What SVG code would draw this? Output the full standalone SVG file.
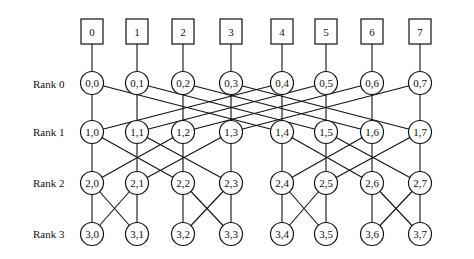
<svg xmlns="http://www.w3.org/2000/svg" width="474" height="259" viewBox="0 0 474 259">
<style>
.n circle{fill:#fff;stroke:#111;stroke-width:1.2}
.n rect{fill:#fff;stroke:#111;stroke-width:1.2}
text{font-family:"Liberation Serif","Times New Roman",serif;font-size:11px;fill:#111;text-anchor:middle;dominant-baseline:central}
.r{font-size:11px;text-anchor:start}
#edges line{stroke:#111;stroke-width:1.1}
</style>
<rect width="474" height="259" fill="#fff"/>
<g id="labels">
<text class="r" x="33" y="84">Rank 0</text>
<text class="r" x="33" y="132">Rank 1</text>
<text class="r" x="33" y="183">Rank 2</text>
<text class="r" x="33" y="234">Rank 3</text>
</g>
<g id="edges">
<line x1="92" y1="44" x2="92" y2="83"/><line x1="137" y1="44" x2="137" y2="83"/><line x1="183" y1="44" x2="183" y2="83"/><line x1="231" y1="44" x2="231" y2="83"/>
<line x1="282" y1="44" x2="282" y2="83"/><line x1="326" y1="44" x2="326" y2="83"/><line x1="372" y1="44" x2="372" y2="83"/><line x1="420" y1="44" x2="420" y2="83"/>
<line x1="92" y1="83" x2="92" y2="132"/><line x1="137" y1="83" x2="137" y2="132"/><line x1="183" y1="83" x2="183" y2="132"/><line x1="231" y1="83" x2="231" y2="132"/>
<line x1="282" y1="83" x2="282" y2="132"/><line x1="326" y1="83" x2="326" y2="132"/><line x1="372" y1="83" x2="372" y2="132"/><line x1="420" y1="83" x2="420" y2="132"/>
<line x1="92" y1="83" x2="282" y2="132"/><line x1="137" y1="83" x2="326" y2="132"/><line x1="183" y1="83" x2="372" y2="132"/><line x1="231" y1="83" x2="420" y2="132"/>
<line x1="282" y1="83" x2="92" y2="132"/><line x1="326" y1="83" x2="137" y2="132"/><line x1="372" y1="83" x2="183" y2="132"/><line x1="420" y1="83" x2="231" y2="132"/>
<line x1="92" y1="132" x2="92" y2="183"/><line x1="137" y1="132" x2="137" y2="183"/><line x1="183" y1="132" x2="183" y2="183"/><line x1="231" y1="132" x2="231" y2="183"/>
<line x1="282" y1="132" x2="282" y2="183"/><line x1="326" y1="132" x2="326" y2="183"/><line x1="372" y1="132" x2="372" y2="183"/><line x1="420" y1="132" x2="420" y2="183"/>
<line x1="92" y1="132" x2="183" y2="183"/><line x1="137" y1="132" x2="231" y2="183"/><line x1="183" y1="132" x2="92" y2="183"/><line x1="231" y1="132" x2="137" y2="183"/>
<line x1="282" y1="132" x2="372" y2="183"/><line x1="326" y1="132" x2="420" y2="183"/><line x1="372" y1="132" x2="282" y2="183"/><line x1="420" y1="132" x2="326" y2="183"/>
<line x1="92" y1="183" x2="92" y2="234"/><line x1="137" y1="183" x2="137" y2="234"/><line x1="183" y1="183" x2="183" y2="234"/><line x1="231" y1="183" x2="231" y2="234"/>
<line x1="282" y1="183" x2="282" y2="234"/><line x1="326" y1="183" x2="326" y2="234"/><line x1="372" y1="183" x2="372" y2="234"/><line x1="420" y1="183" x2="420" y2="234"/>
<line x1="92" y1="183" x2="137" y2="234"/><line x1="137" y1="183" x2="92" y2="234"/><line x1="183" y1="183" x2="231" y2="234"/><line x1="231" y1="183" x2="183" y2="234"/>
<line x1="282" y1="183" x2="326" y2="234"/><line x1="326" y1="183" x2="282" y2="234"/><line x1="372" y1="183" x2="420" y2="234"/><line x1="420" y1="183" x2="372" y2="234"/>
</g>
<g id="b0" class="n"><rect x="81" y="19" width="22" height="25"/><text x="92" y="32">0</text></g>
<g id="b1" class="n"><rect x="126" y="19" width="22" height="25"/><text x="137" y="32">1</text></g>
<g id="b2" class="n"><rect x="172" y="19" width="22" height="25"/><text x="183" y="32">2</text></g>
<g id="b3" class="n"><rect x="220" y="19" width="22" height="25"/><text x="231" y="32">3</text></g>
<g id="b4" class="n"><rect x="271" y="19" width="22" height="25"/><text x="282" y="32">4</text></g>
<g id="b5" class="n"><rect x="315" y="19" width="22" height="25"/><text x="326" y="32">5</text></g>
<g id="b6" class="n"><rect x="361" y="19" width="22" height="25"/><text x="372" y="32">6</text></g>
<g id="b7" class="n"><rect x="409" y="19" width="22" height="25"/><text x="420" y="32">7</text></g>

<g id="n0_0" class="n"><circle cx="92" cy="83" r="11.5"/><text x="92" y="83">0,0</text></g>
<g id="n0_1" class="n"><circle cx="137" cy="83" r="11.5"/><text x="137" y="83">0,1</text></g>
<g id="n0_2" class="n"><circle cx="183" cy="83" r="11.5"/><text x="183" y="83">0,2</text></g>
<g id="n0_3" class="n"><circle cx="231" cy="83" r="11.5"/><text x="231" y="83">0,3</text></g>
<g id="n0_4" class="n"><circle cx="282" cy="83" r="11.5"/><text x="282" y="83">0,4</text></g>
<g id="n0_5" class="n"><circle cx="326" cy="83" r="11.5"/><text x="326" y="83">0,5</text></g>
<g id="n0_6" class="n"><circle cx="372" cy="83" r="11.5"/><text x="372" y="83">0,6</text></g>
<g id="n0_7" class="n"><circle cx="420" cy="83" r="11.5"/><text x="420" y="83">0,7</text></g>

<g id="n1_0" class="n"><circle cx="92" cy="132" r="11.5"/><text x="92" y="132">1,0</text></g>
<g id="n1_1" class="n"><circle cx="137" cy="132" r="11.5"/><text x="137" y="132">1,1</text></g>
<g id="n1_2" class="n"><circle cx="183" cy="132" r="11.5"/><text x="183" y="132">1,2</text></g>
<g id="n1_3" class="n"><circle cx="231" cy="132" r="11.5"/><text x="231" y="132">1,3</text></g>
<g id="n1_4" class="n"><circle cx="282" cy="132" r="11.5"/><text x="282" y="132">1,4</text></g>
<g id="n1_5" class="n"><circle cx="326" cy="132" r="11.5"/><text x="326" y="132">1,5</text></g>
<g id="n1_6" class="n"><circle cx="372" cy="132" r="11.5"/><text x="372" y="132">1,6</text></g>
<g id="n1_7" class="n"><circle cx="420" cy="132" r="11.5"/><text x="420" y="132">1,7</text></g>

<g id="n2_0" class="n"><circle cx="92" cy="183" r="11.5"/><text x="92" y="183">2,0</text></g>
<g id="n2_1" class="n"><circle cx="137" cy="183" r="11.5"/><text x="137" y="183">2,1</text></g>
<g id="n2_2" class="n"><circle cx="183" cy="183" r="11.5"/><text x="183" y="183">2,2</text></g>
<g id="n2_3" class="n"><circle cx="231" cy="183" r="11.5"/><text x="231" y="183">2,3</text></g>
<g id="n2_4" class="n"><circle cx="282" cy="183" r="11.5"/><text x="282" y="183">2,4</text></g>
<g id="n2_5" class="n"><circle cx="326" cy="183" r="11.5"/><text x="326" y="183">2,5</text></g>
<g id="n2_6" class="n"><circle cx="372" cy="183" r="11.5"/><text x="372" y="183">2,6</text></g>
<g id="n2_7" class="n"><circle cx="420" cy="183" r="11.5"/><text x="420" y="183">2,7</text></g>

<g id="n3_0" class="n"><circle cx="92" cy="234" r="11.5"/><text x="92" y="234">3,0</text></g>
<g id="n3_1" class="n"><circle cx="137" cy="234" r="11.5"/><text x="137" y="234">3,1</text></g>
<g id="n3_2" class="n"><circle cx="183" cy="234" r="11.5"/><text x="183" y="234">3,2</text></g>
<g id="n3_3" class="n"><circle cx="231" cy="234" r="11.5"/><text x="231" y="234">3,3</text></g>
<g id="n3_4" class="n"><circle cx="282" cy="234" r="11.5"/><text x="282" y="234">3,4</text></g>
<g id="n3_5" class="n"><circle cx="326" cy="234" r="11.5"/><text x="326" y="234">3,5</text></g>
<g id="n3_6" class="n"><circle cx="372" cy="234" r="11.5"/><text x="372" y="234">3,6</text></g>
<g id="n3_7" class="n"><circle cx="420" cy="234" r="11.5"/><text x="420" y="234">3,7</text></g>
</svg>
